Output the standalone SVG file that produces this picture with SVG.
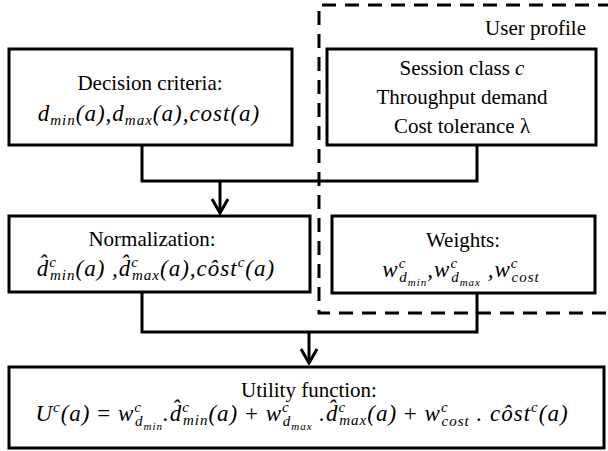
<svg xmlns="http://www.w3.org/2000/svg" width="608" height="451" viewBox="0 0 608 451">
<defs>
<marker id="arr" markerUnits="userSpaceOnUse" viewBox="-16 -10 18 20" refX="0" refY="0" markerWidth="18" markerHeight="20" orient="auto">
<path d="M-14,-8 L0,0 L-14,8" fill="none" stroke="#000" stroke-width="3"/>
</marker>
</defs>
<rect width="608" height="451" fill="#fff"/>
<g id="user-profile">
<path d="M612,5 H319 V313 H612" fill="none" stroke="#000" stroke-width="3" stroke-dasharray="14 9"/>
<text font-family="Liberation Serif" font-size="21" fill="#000" x="586" y="35" text-anchor="end">User profile</text>
</g>
<g id="connectors" fill="none" stroke="#000" stroke-width="3">
<path d="M142,145 V181 H477 V145"/>
<path d="M220,181 V213" marker-end="url(#arr)"/>
<path d="M142,292 V332 H477 V293"/>
<path d="M309,332 V363" marker-end="url(#arr)"/>
</g>
<g id="decision">
<rect x="9" y="49" width="283" height="96" fill="#fff" stroke="#000" stroke-width="3"/>
<text font-family="Liberation Serif" font-size="21" x="150" y="90" text-anchor="middle">Decision criteria:</text>
<text font-family="Liberation Serif" font-size="23" font-style="italic" letter-spacing="1" x="149" y="121" text-anchor="middle">d<tspan font-size="15" dy="4">min</tspan><tspan dy="-4">(a),d</tspan><tspan font-size="15" dy="4">max</tspan><tspan dy="-4">(a),cost(a)</tspan></text>
</g>
<g id="session">
<rect x="327" y="49" width="269" height="96" fill="#fff" stroke="#000" stroke-width="3"/>
<text font-family="Liberation Serif" font-size="21" x="462" y="75" text-anchor="middle">Session class <tspan font-style="italic">c</tspan></text>
<text font-family="Liberation Serif" font-size="21" x="462" y="104" text-anchor="middle">Throughput demand</text>
<text font-family="Liberation Serif" font-size="21" x="462" y="133" text-anchor="middle">Cost tolerance λ</text>
</g>
<g id="normalization">
<rect x="9" y="216" width="301" height="76" fill="#fff" stroke="#000" stroke-width="3"/>
<text font-family="Liberation Serif" font-size="21" x="152" y="246" text-anchor="middle">Normalization:</text>
<text font-family="Liberation Serif" font-size="23" font-style="italic" letter-spacing="1" x="156" y="276" text-anchor="middle">d̂<tspan font-size="15" dy="-9">c</tspan><tspan font-size="15" dx="-7" dy="13">min</tspan><tspan dy="-4">(a)&#160;,d̂</tspan><tspan font-size="15" dy="-9">c</tspan><tspan font-size="15" dx="-7" dy="13">max</tspan><tspan dy="-4">(a),côst</tspan><tspan font-size="15" dy="-9">c</tspan><tspan dy="9">(a)</tspan></text>
</g>
<g id="weights">
<rect x="332" y="216" width="263" height="77" fill="#fff" stroke="#000" stroke-width="3"/>
<text font-family="Liberation Serif" font-size="21" x="463" y="247" text-anchor="middle">Weights:</text>
<text font-family="Liberation Serif" font-size="23" font-style="italic" letter-spacing="1" x="461" y="277" text-anchor="middle">w<tspan font-size="15" dy="-9">c</tspan><tspan font-size="15" dx="-7" dy="14">d</tspan><tspan font-size="11" dy="4">min</tspan><tspan dy="-9">,w</tspan><tspan font-size="15" dy="-9">c</tspan><tspan font-size="15" dx="-7" dy="14">d</tspan><tspan font-size="11" dy="4">max</tspan><tspan dy="-9">&#160;,w</tspan><tspan font-size="15" dy="-9">c</tspan><tspan font-size="15" dx="-7" dy="14">cost</tspan></text>
</g>
<g id="utility">
<rect x="9" y="367" width="595" height="81" fill="#fff" stroke="#000" stroke-width="3"/>
<text font-family="Liberation Serif" font-size="21" x="309" y="397" text-anchor="middle">Utility function:</text>
<text font-family="Liberation Serif" font-size="23" font-style="italic" letter-spacing="1" x="302" y="421" text-anchor="middle">U<tspan font-size="15" dy="-9">c</tspan><tspan dy="9">(a)&#160;</tspan><tspan font-style="normal">=</tspan>&#160;w<tspan font-size="15" dy="-9">c</tspan><tspan font-size="15" dx="-7" dy="14">d</tspan><tspan font-size="11" dy="4">min</tspan><tspan dy="-9">.d̂</tspan><tspan font-size="15" dy="-9">c</tspan><tspan font-size="15" dx="-7" dy="13">min</tspan><tspan dy="-4">(a)&#160;</tspan><tspan font-style="normal">+</tspan>&#160;w<tspan font-size="15" dy="-9">c</tspan><tspan font-size="15" dx="-7" dy="14">d</tspan><tspan font-size="11" dy="4">max</tspan><tspan dy="-9">&#160;.d̂</tspan><tspan font-size="15" dy="-9">c</tspan><tspan font-size="15" dx="-7" dy="13">max</tspan><tspan dy="-4">(a)&#160;</tspan><tspan font-style="normal">+</tspan>&#160;w<tspan font-size="15" dy="-9">c</tspan><tspan font-size="15" dx="-7" dy="14">cost</tspan><tspan dy="-5">&#160;.&#160;côst</tspan><tspan font-size="15" dy="-9">c</tspan><tspan dy="9">(a)</tspan></text>
</g>
</svg>
